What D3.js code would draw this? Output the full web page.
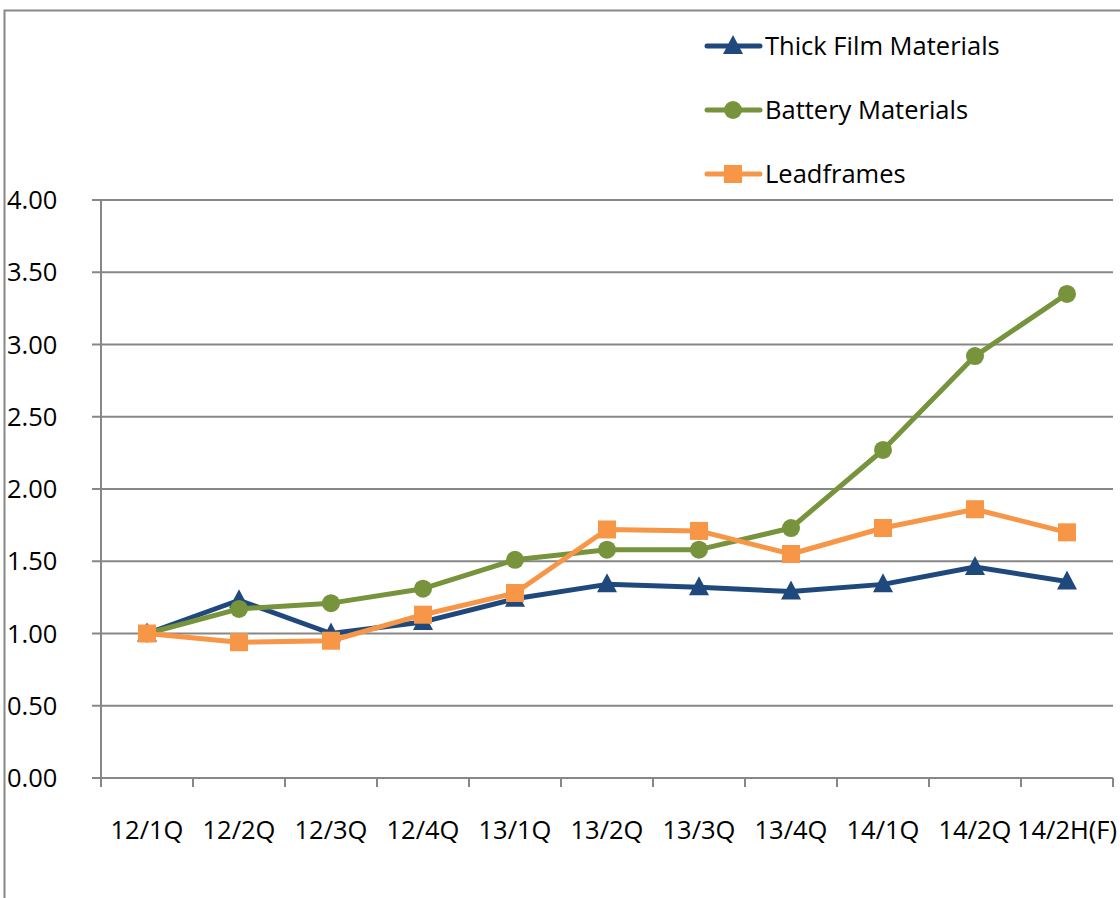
<!DOCTYPE html>
<html>
<head>
<meta charset="utf-8">
<script src="https://cdn.jsdelivr.net/npm/d3@7"></script>
<style>
  body { margin: 0; background: #fff; }
  svg text { font-family: "Open Sans", "Noto Sans", sans-serif; fill: #000; }
</style>
</head>
<body>
<div id="chart"></div>
<script>
// chart data
const categories = ["12/1Q", "12/2Q", "12/3Q", "12/4Q", "13/1Q", "13/2Q", "13/3Q", "13/4Q", "14/1Q", "14/2Q", "14/2H(F)"];
const thickFilm = [1.00, 1.23, 1.00, 1.08, 1.24, 1.34, 1.32, 1.29, 1.34, 1.46, 1.36];
const battery = [1.00, 1.17, 1.21, 1.31, 1.51, 1.58, 1.58, 1.73, 2.27, 2.92, 3.35];
const leadframes = [1.00, 0.94, 0.95, 1.13, 1.28, 1.72, 1.71, 1.55, 1.73, 1.86, 1.70];
const yTicks = [0, 0.5, 1, 1.5, 2, 2.5, 3, 3.5, 4];

const series = [
  { name: "Thick Film Materials", values: thickFilm, color: "#1F497D", marker: "triangle" },
  { name: "Battery Materials", values: battery, color: "#77933C", marker: "circle" },
  { name: "Leadframes", values: leadframes, color: "#F79646", marker: "square" }
];

const width = 1120, height = 898;
const plotL = 101, plotR = 1113, plotT = 200, plotB = 778;
const gridColor = "#878787";
const fontSize = 25.5;

const svg = d3.select("#chart").append("svg")
  .attr("width", width)
  .attr("height", height);

// outer frame (left + top edges visible)
svg.append("path")
  .attr("d", `M4.5,${height} V10.5 H${width}`)
  .attr("fill", "none")
  .attr("stroke", gridColor)
  .attr("stroke-width", 2);

const x = d3.scaleBand().domain(categories).range([plotL, plotR]);
const y = d3.scaleLinear().domain([0, 4]).range([plotB, plotT]);

// horizontal gridlines + y tick marks
svg.append("g")
  .selectAll("line")
  .data(yTicks)
  .join("line")
  .attr("x1", plotL - 9)
  .attr("x2", plotR)
  .attr("y1", d => y(d))
  .attr("y2", d => y(d))
  .attr("stroke", gridColor)
  .attr("stroke-width", 2);

// y axis line
svg.append("line")
  .attr("x1", plotL).attr("x2", plotL)
  .attr("y1", plotT).attr("y2", plotB)
  .attr("stroke", gridColor).attr("stroke-width", 2);

// y labels
svg.append("g")
  .selectAll("text")
  .data(yTicks)
  .join("text")
  .attr("x", 7)
  .attr("y", d => y(d) + 9)
  .attr("font-size", fontSize)
  .text(d => d.toFixed(2));

// x tick marks at category boundaries
const bounds = categories.map(c => x(c)).concat([plotR]);
svg.append("g")
  .selectAll("line")
  .data(bounds)
  .join("line")
  .attr("x1", d => d).attr("x2", d => d)
  .attr("y1", plotB).attr("y2", plotB + 9)
  .attr("stroke", gridColor).attr("stroke-width", 2);

// x labels
svg.append("g")
  .selectAll("text")
  .data(categories)
  .join("text")
  .attr("x", d => x(d) + x.bandwidth() / 2)
  .attr("y", 839)
  .attr("text-anchor", "middle")
  .attr("font-size", fontSize)
  .text(d => d);

const cx = i => x(categories[i]) + x.bandwidth() / 2;

const line = d3.line()
  .x((d, i) => cx(i))
  .y(d => y(d));

function drawMarker(g, type, color) {
  if (type === "triangle") {
    g.append("path").attr("d", "M0,-11 L10,8 L-10,8 Z").attr("fill", color);
  } else if (type === "circle") {
    g.append("circle").attr("r", 9).attr("fill", color);
  } else {
    g.append("rect").attr("x", -9).attr("y", -9).attr("width", 18).attr("height", 18).attr("fill", color);
  }
}

series.forEach(s => {
  svg.append("path")
    .datum(s.values)
    .attr("d", line)
    .attr("fill", "none")
    .attr("stroke", s.color)
    .attr("stroke-width", 5)
    .attr("stroke-linejoin", "round");
  s.values.forEach((v, i) => {
    const g = svg.append("g").attr("transform", `translate(${cx(i)},${y(v)})`);
    drawMarker(g, s.marker, s.color);
  });
});

// legend
series.forEach((s, i) => {
  const ly = 46 + i * 64;
  const g = svg.append("g");
  g.append("line")
    .attr("x1", 707).attr("x2", 760)
    .attr("y1", ly).attr("y2", ly)
    .attr("stroke", s.color).attr("stroke-width", 5)
    .attr("stroke-linecap", "round");
  const m = g.append("g").attr("transform", `translate(733,${ly})`);
  drawMarker(m, s.marker, s.color);
  g.append("text")
    .attr("x", 765)
    .attr("y", ly + 9)
    .attr("font-size", fontSize)
    .text(s.name);
});
</script>
</body>
</html>
